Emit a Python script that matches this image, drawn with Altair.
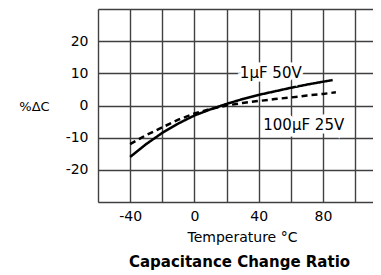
import altair as alt
import pandas as pd

# Series values
temp_50v = [-40, -30, -20, -10, 0, 10, 20, 30, 40, 50, 60, 70, 80, 86]
cap_50v = [-16.0, -12.0, -8.5, -5.6, -3.1, -1.2, 0.5, 2.0, 3.3, 4.4, 5.5, 6.5, 7.4, 7.9]
temp_25v = [-40, -30, -20, -10, 0, 10, 20, 30, 40, 50, 60, 70, 80, 88]
cap_25v = [-12.0, -9.2, -6.8, -4.4, -2.5, -1.1, 0.0, 0.8, 1.4, 2.0, 2.5, 3.1, 3.6, 4.1]

label_text = ["1\u03bcF 50V", "100\u03bcF 25V"]
label_x = [47.5, 68]
label_y = [10, -6]

x_ticks = [-60, -40, -20, 0, 20, 40, 60, 80, 100]
y_ticks = [-30, -20, -10, 0, 10, 20, 30]
x_shown = [-40, 0, 40, 80]
y_shown = [-20, -10, 0, 10, 20]

FONT = "DejaVu Sans"
GRID = "#404040"

df = pd.concat([
    pd.DataFrame({"t": temp_50v, "c": cap_50v, "s": "50V"}),
    pd.DataFrame({"t": temp_25v, "c": cap_25v, "s": "25V"}),
])
lab = pd.DataFrame({"t": label_x, "c": label_y, "txt": label_text})

xs = alt.Scale(domain=[-60, 111.1], nice=False, zero=False)
ys = alt.Scale(domain=[-30, 30], nice=False, zero=False)

x_expr = "indexof([" + ",".join(str(v) for v in x_shown) + "], datum.value) >= 0 ? '' + datum.value : ''"
y_expr = "indexof([" + ",".join(str(v) for v in y_shown) + "], datum.value) >= 0 ? '' + datum.value : ''"

xaxis = alt.Axis(values=x_ticks, labelExpr=x_expr, grid=True, gridColor=GRID, gridWidth=1.4,
                 gridOpacity=1, domain=False, ticks=False, labelPadding=7, labelFont=FONT,
                 labelFontSize=14, labelColor="black", title="Temperature \u00b0C",
                 titleFont=FONT, titleFontSize=14, titleFontWeight="normal", titleColor="black",
                 titleX=144, titleY=35, titleAlign="center", titleBaseline="middle",
                 labelFlush=False, labelOverlap=False)
yaxis = alt.Axis(values=y_ticks, labelExpr=y_expr, grid=True, gridColor=GRID, gridWidth=1.4,
                 gridOpacity=1, domain=False, ticks=False, labelPadding=10, labelFont=FONT,
                 labelFontSize=14, labelColor="black", title="%\u0394C", titleAngle=0,
                 titleFont=FONT, titleFontSize=13, titleFontWeight="normal", titleColor="black",
                 titleX=-64, titleY=97, titleAlign="center", titleBaseline="middle",
                 labelFlush=False, labelOverlap=False)

X = alt.X("t:Q", scale=xs, axis=xaxis)
Y = alt.Y("c:Q", scale=ys, axis=yaxis)

lines = alt.Chart(df).mark_line(color="black", strokeWidth=2.5).encode(
    x=X, y=Y,
    strokeDash=alt.StrokeDash("s:N", scale=alt.Scale(domain=["50V", "25V"], range=[[1, 0], [6, 4]]),
                              legend=None),
    detail="s:N",
)

halo = alt.Chart(lab).mark_text(font=FONT, fontSize=15, color="white", stroke="white",
                                strokeWidth=7).encode(x=X, y=Y, text="txt:N")
texts = alt.Chart(lab).mark_text(font=FONT, fontSize=15, color="black").encode(
    x=X, y=Y, text="txt:N")

chart = alt.layer(lines, halo, texts).properties(
    width=275, height=193,
    autosize=alt.AutoSizeParams(type="none"),
    padding={"left": 90, "top": 1, "right": 0, "bottom": 70},
    title=alt.TitleParams("Capacitance Change Ratio", orient="bottom", anchor="middle",
                          font=FONT, fontSize=15, fontWeight="bold", color="black", offset=11,
                          dx=4),
).configure_view(stroke=None).configure(background="white")

chart.save("out.html", embed_options={"renderer": "svg", "actions": False})
